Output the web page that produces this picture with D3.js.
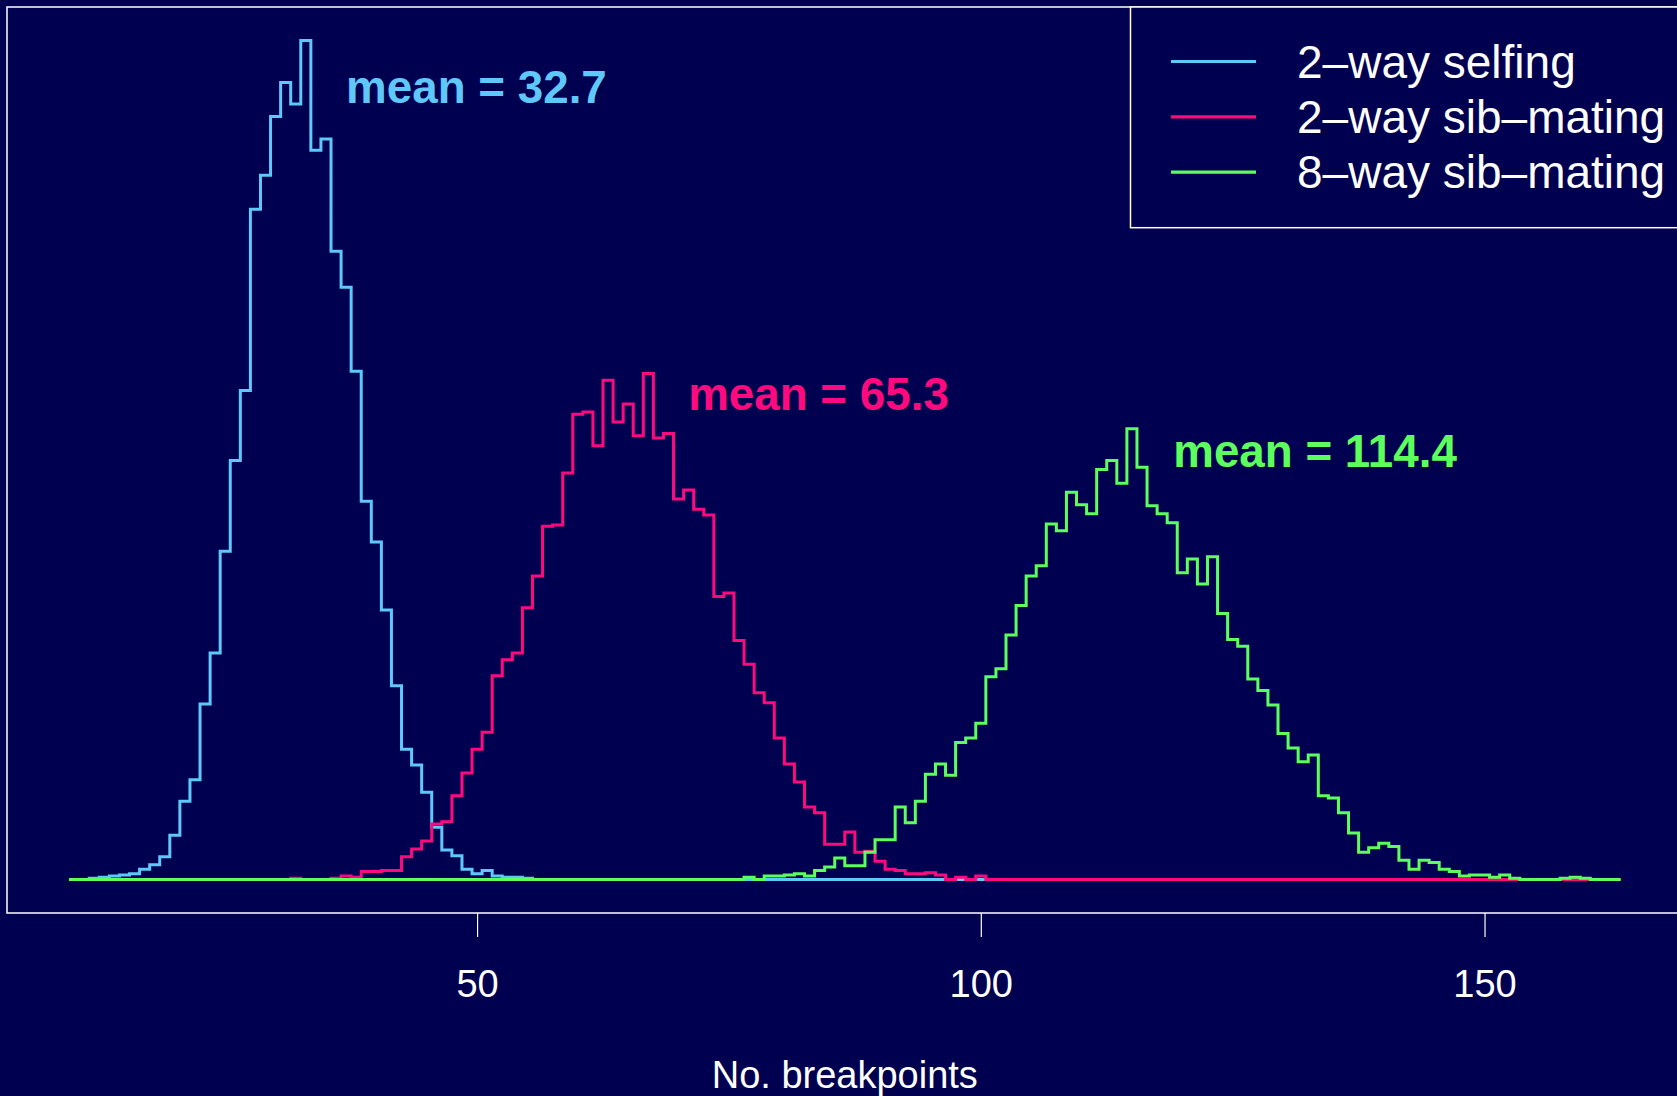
<!DOCTYPE html>
<html>
<head>
<meta charset="utf-8">
<script src="https://cdn.jsdelivr.net/npm/d3@7"></script>
<style>
  html, body { margin: 0; padding: 0; background: #000050; }
  svg { display: block; }
  text { font-family: "Liberation Sans", Arial, Helvetica, sans-serif; }
</style>
</head>
<body>
<svg id="chart" width="1677" height="1096"></svg>
<script>
// ---------------- data ----------------
// histogram breaks: integer bins from 9.5 to 163.5 (counts out of 10000 simulations)
const breakMin = 9.5;
const breakMax = 163.5;

const seriesNames = ["2\u2013way selfing", "2\u2013way sib\u2013mating", "8\u2013way sib\u2013mating"];
const seriesMeans = ["32.7", "65.3", "114.4"];

// first non-zero bin (integer value) and counts from there on
const selfingFirst = 12;
const selfingCounts = [1,2,3,4,5,9,13,20,39,69,88,155,200,290,370,432,592,622,674,704,685,741,644,654,555,523,449,334,298,238,171,115,101,77,46,26,21,9,5,8,3,2,2,1];

const sib2First = 32;
const sib2Counts = [1,0,0,0,1,3,2,7,7,8,8,20,27,34,49,51,74,94,115,130,180,194,200,240,268,312,313,359,411,413,383,441,404,420,392,447,390,394,336,344,327,322,250,253,211,190,165,156,125,102,86,64,59,31,31,42,24,25,16,9,8,5,5,6,4,0,2,0,3];

const sib8First = 77;
const sib8Counts = [2,0,3,3,4,5,3,8,11,19,12,12,24,35,35,64,50,69,93,102,92,121,125,138,179,186,216,242,268,277,314,308,342,331,323,362,370,350,398,364,330,323,315,271,283,261,285,235,212,206,177,167,154,129,116,104,110,74,72,59,41,24,28,32,29,17,9,17,15,9,7,3,4,4,2,4,1,0,0,0,0,1,2,1];

const xTicks = [50, 100, 150];
const xLabel = "No. breakpoints";

// ---------------- styles / layout ----------------
const colors = ["#5ec8fa", "#ff0a7e", "#5cff5c"];
const bg = "#000050";
const W = 1677, H = 1096;
const plot = { left: 7, top: 7, bottom: 913 };
const plotRightOffscreen = 1682.6;

// label placement (data coords: x value, y count at text baseline)
const meanLabelPos = [[37.0, 686], [70.95, 415], [119.1, 364.5]];

// ---------------- build ----------------
const svg = d3.select("#chart");
svg.append("rect").attr("width", W).attr("height", H).attr("fill", bg);

function fullCounts(first, counts) {
  const bins = [];
  for (let b = breakMin; b < breakMax - 1e-9; b += 1) {
    const v = b + 0.5;
    const idx = v - first;
    bins.push({ x0: b, x1: b + 1, count: (idx >= 0 && idx < counts.length) ? counts[idx] : 0 });
  }
  return bins;
}
const series = [
  fullCounts(selfingFirst, selfingCounts),
  fullCounts(sib2First, sib2Counts),
  fullCounts(sib8First, sib8Counts)
];

const maxCount = d3.max(series, s => d3.max(s, d => d.count));
const xr = breakMax - breakMin;
const x = d3.scaleLinear()
  .domain([breakMin - 0.04 * xr, breakMax + 0.04 * xr])
  .range([plot.left, plotRightOffscreen]);
const y = d3.scaleLinear()
  .domain([-0.04 * maxCount, 1.04 * maxCount])
  .range([plot.bottom, plot.top]);

const line = d3.line()
  .x(d => x(d[0]))
  .y(d => y(d[1]))
  .curve(d3.curveStepAfter);

const g = svg.append("g");
series.forEach((s, i) => {
  const pts = s.map(d => [d.x0, d.count]);
  pts.push([breakMax, s[s.length - 1].count]);
  g.append("path")
    .attr("d", line(pts))
    .attr("fill", "none")
    .attr("stroke", colors[i])
    .attr("stroke-width", 3)
    .attr("stroke-linejoin", "miter");
});

// mean labels
seriesMeans.forEach((m, i) => {
  svg.append("text")
    .attr("x", x(meanLabelPos[i][0]))
    .attr("y", y(meanLabelPos[i][1]))
    .attr("fill", colors[i])
    .attr("font-size", 45.75)
    .attr("font-weight", "bold")
    .text("mean = " + m);
});

// plot box
svg.append("rect")
  .attr("x", plot.left).attr("y", plot.top)
  .attr("width", plotRightOffscreen - plot.left)
  .attr("height", plot.bottom - plot.top)
  .attr("fill", "none").attr("stroke", "white").attr("stroke-width", 1.5);

// x axis
const axis = d3.axisBottom(x).tickValues(xTicks).tickSize(24).tickPadding(16);
const ax = svg.append("g").attr("transform", `translate(0,${plot.bottom})`).call(axis);
ax.select(".domain").remove();
ax.selectAll(".tick line").attr("stroke", "white").attr("stroke-width", 1.2);
ax.selectAll(".tick text")
  .attr("fill", "white")
  .attr("font-size", 38)
  .attr("font-family", "Liberation Sans, Arial, sans-serif")
  .attr("dy", null)
  .attr("y", 84);

svg.append("text")
  .attr("x", (plot.left + plotRightOffscreen) / 2)
  .attr("y", 1088)
  .attr("text-anchor", "middle")
  .attr("fill", "white")
  .attr("font-size", 38)
  .text(xLabel);

// legend
const lg = { left: 1130.5, top: 7, bottom: 227.7, lineX0: 1171, lineX1: 1256, textX: 1297, row0: 61.5, rowStep: 55.3 };
svg.append("rect")
  .attr("x", lg.left).attr("y", lg.top)
  .attr("width", plotRightOffscreen - lg.left)
  .attr("height", lg.bottom - lg.top)
  .attr("fill", bg).attr("stroke", "white").attr("stroke-width", 1.5);
seriesNames.forEach((n, i) => {
  const ly = lg.row0 + i * lg.rowStep;
  svg.append("line")
    .attr("x1", lg.lineX0).attr("x2", lg.lineX1)
    .attr("y1", ly).attr("y2", ly)
    .attr("stroke", colors[i]).attr("stroke-width", 3.2);
  svg.append("text")
    .attr("x", lg.textX).attr("y", ly + 16)
    .attr("fill", "white")
    .attr("font-size", 46)
    .text(n);
});
</script>
</body>
</html>
